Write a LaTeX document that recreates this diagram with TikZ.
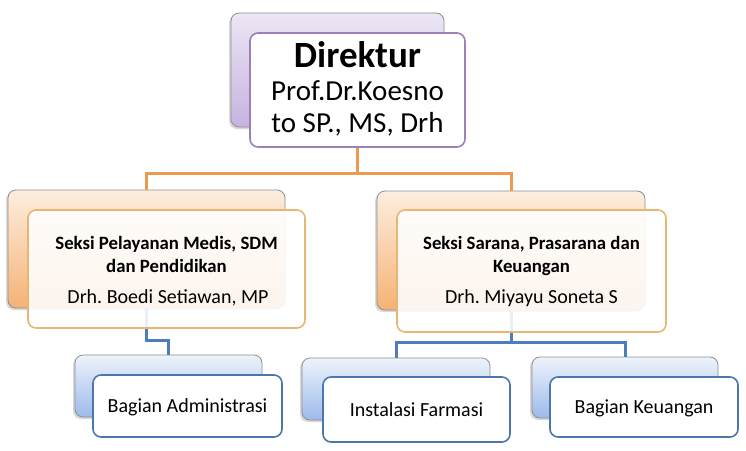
\documentclass[tikz,border=0pt]{standalone}
\usepackage{fontspec}
\setmainfont{Carlito}
\usetikzlibrary{shadows,positioning}
\definecolor{purpTop}{HTML}{ECE6F5}
\definecolor{purpBot}{HTML}{C5B3DE}
\definecolor{purpLine}{HTML}{9D80B8}
\definecolor{orTop}{HTML}{FDEEE0}
\definecolor{orBot}{HTML}{F5B274}
\definecolor{orLine}{HTML}{E8B672}
\definecolor{orConn}{HTML}{EC9A50}
\definecolor{blTop}{HTML}{EEF3FB}
\definecolor{blBot}{HTML}{9CBAEA}
\definecolor{blLine}{HTML}{4A77AC}
\definecolor{blConn}{HTML}{4A7EBF}
\definecolor{backEdge}{HTML}{8E8E8E}
\tikzset{
  backbox/.style={draw=backEdge, line width=0.8pt, rounded corners=8pt, inner sep=0pt,
    drop shadow={shadow xshift=-2pt, shadow yshift=-2pt, fill=black!30, opacity=0.5}},
  frontbox/.style={line width=1.6pt, rounded corners=8pt, inner sep=0pt, align=center},
  pback/.style={backbox, top color=purpTop, bottom color=purpBot},
  oback/.style={backbox, top color=orTop, bottom color=orBot},
  bback/.style={backbox, top color=blTop, bottom color=blBot},
  pfront/.style={frontbox, draw=purpLine, fill=white},
  ofront/.style={frontbox, draw=orLine, fill=white, fill opacity=0.88, text opacity=1},
  bfront/.style={frontbox, draw=blLine, fill=white},
  oconn/.style={draw=orConn, line width=3pt},
  bconn/.style={draw=blConn, line width=3pt},
  txt/.style={anchor=base, inner sep=0pt, font=\frenchspacing},
}
\begin{document}
\begin{tikzpicture}[x=1pt,y=-1pt]
\useasboundingbox (0,0) rectangle (746,450);
% director
\node[pback, minimum width=213pt, minimum height=114pt] (dirB) at (337.5,70) {};
\node[pfront, minimum width=215pt, minimum height=114pt] (dirF) at (357.5,90) {};
% sections (back)
\node[oback, minimum width=277pt, minimum height=118pt] (secLB) at (146.5,249) {};
\node[oback, minimum width=268pt, minimum height=119pt] (secRB) at (511,250.5) {};
% bottom back boxes
\node[bback, minimum width=187pt, minimum height=62pt] (admB) at (168.5,386) {};
\node[bback, minimum width=188pt, minimum height=62pt] (insB) at (396,389) {};
\node[bback, minimum width=186pt, minimum height=61pt] (keuB) at (625,387.5) {};
% connectors
\coordinate (oj) at (357.5,173);
\draw[oconn] (dirF.south) -- (oj);
\draw[oconn] (oj) -| (secLB.north);
\draw[oconn] (oj) -| (secRB.north);
\coordinate (bjL) at (146.5,340);
\coordinate (bjR) at (511,342);
\draw[bconn] (secLB.south) -- (bjL) -| (admB.north);
\draw[bconn] (secRB.south) -- (bjR);
\draw[bconn] (bjR) -| (insB.north);
\draw[bconn] (bjR) -| (keuB.north);
% section fronts
\node[ofront, minimum width=277pt, minimum height=118pt] (secLF) at (166.5,269) {};
\node[ofront, minimum width=269pt, minimum height=122pt] (secRF) at (531.5,271) {};
% bottom fronts
\node[bfront, minimum width=189pt, minimum height=62pt] (admF) at (187.5,406) {};
\node[bfront, minimum width=187pt, minimum height=65pt] (insF) at (416.5,409.5) {};
\node[bfront, minimum width=188pt, minimum height=60pt] (keuF) at (644,407) {};
% texts
\node[txt] (t1) at (357.5,67) {\fontsize{37}{40}\selectfont\bfseries Direktur};
\node[txt] (t2) at (357.5,100) {\fontsize{29}{32}\selectfont Prof.Dr.Koesno};
\node[txt] (t3) at (357.5,132) {\fontsize{29}{32}\selectfont to SP., MS, Drh};
\node[txt] (l1) at (166.5,249) {\fontsize{18.8}{22}\selectfont\bfseries Seksi Pelayanan Medis, SDM};
\node[txt] (l2) at (166.5,272) {\fontsize{18.8}{22}\selectfont\bfseries dan Pendidikan};
\node[txt] (l3) at (168,303) {\fontsize{20}{23}\selectfont Drh. Boedi Setiawan, MP};
\node[txt] (r1) at (531.5,249) {\fontsize{18.8}{22}\selectfont\bfseries Seksi Sarana, Prasarana dan};
\node[txt] (r2) at (531.5,272) {\fontsize{18.8}{22}\selectfont\bfseries Keuangan};
\node[txt] (r3) at (531.5,303) {\fontsize{20}{23}\selectfont Drh. Miyayu Soneta S};
\node[txt] (a1) at (187.5,412) {\fontsize{20}{23}\selectfont Bagian Administrasi};
\node[txt] (i1) at (416.5,416) {\fontsize{20}{23}\selectfont Instalasi Farmasi};
\node[txt] (k1) at (644,413) {\fontsize{20}{23}\selectfont Bagian Keuangan};
\end{tikzpicture}
\end{document}
